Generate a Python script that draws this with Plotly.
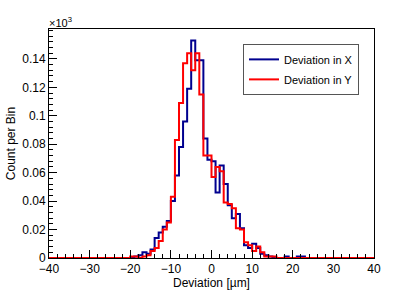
import plotly.graph_objects as go

# bin left edges: -40 ... 39 (1 µm bins)
bin_lo = list(range(-40, 40))

# counts per bin, for bins starting at -20 ... 22
blue_core = [0, 1, 2, 4, 3, 6, 14, 18, 22, 26, 40, 58, 78, 96, 119, 153, 139, 139,
             84, 69, 68, 46, 65, 52, 37, 28, 31, 21, 9, 7, 10, 7, 3, 2, 1, 0, 0, 0,
             1, 0, 0, 1, 1]
red_core = [1, 1, 0, 1, 2, 5, 7, 12, 20, 25, 43, 83, 109, 137, 144, 132, 144, 115,
            72, 72, 57, 64, 61, 39, 38, 35, 21, 20, 11, 9, 5, 8, 4, 1, 1, 1, 0, 0,
            0, 0, 0, 0, 0]

core_start = -20
def full(core):
    vals = [0] * len(bin_lo)
    for i, v in enumerate(core):
        vals[core_start + 40 + i] = v
    return vals

blue_counts = full(blue_core)
red_counts = full(red_core)

x_ticks = [-40, -30, -20, -10, 0, 10, 20, 30, 40]
y_ticks = [0, 0.02, 0.04, 0.06, 0.08, 0.1, 0.12, 0.14]
y_tick_text = ["0", "0.02", "0.04", "0.06", "0.08", "0.1", "0.12", "0.14"]

def step(vals):
    xs = bin_lo + [bin_lo[-1] + 1]
    ys = [v / 1000 for v in vals] + [vals[-1] / 1000]
    return xs, ys

fig = go.Figure()
bx, by = step(blue_counts)
rx, ry = step(red_counts)
fig.add_trace(go.Scatter(x=bx, y=by, mode="lines", line=dict(shape="hv", color="#00008f", width=2),
                         name="Deviation in X", legendgroup="x"))
fig.add_trace(go.Scatter(x=rx, y=ry, mode="lines", line=dict(shape="hv", color="#ff0000", width=2),
                         name="Deviation in Y", legendgroup="y"))

font = "Liberation Sans, Arial, sans-serif"
fig.update_layout(
    width=407, height=294,
    margin=dict(l=49, r=33, t=29, b=36),
    paper_bgcolor="white", plot_bgcolor="white",
    font=dict(family=font, size=11, color="black"),
    showlegend=True,
    legend=dict(x=0.597, y=0.935, xanchor="left", yanchor="top",
                bordercolor="#555", borderwidth=1, bgcolor="white",
                font=dict(size=11), tracegroupgap=1),
    xaxis=dict(range=[-40, 40], tickvals=x_ticks, ticks="inside", ticklen=8,
               tickcolor="black", showline=True, linecolor="black", linewidth=1,
               mirror=True, showgrid=False, zeroline=False, automargin=False,
               minor=dict(dtick=2, ticks="inside", ticklen=4, tickcolor="black"),
               title=dict(text="Deviation [µm]", font=dict(size=12), standoff=2),
               tickfont=dict(size=12)),
    yaxis=dict(range=[0, 0.161], tickvals=y_ticks, ticktext=y_tick_text,
               ticks="inside", ticklen=8, tickcolor="black",
               showline=True, linecolor="black", linewidth=1, mirror=True,
               showgrid=False, zeroline=False, automargin=False,
               minor=dict(dtick=0.004, ticks="inside", ticklen=4, tickcolor="black"),
               title=dict(text="Count per Bin", font=dict(size=12), standoff=4),
               tickfont=dict(size=12)),
    annotations=[dict(text="×10<sup>3</sup>", xref="paper", yref="paper", x=0, y=1,
                      xanchor="left", yanchor="bottom", showarrow=False,
                      font=dict(size=11), xshift=-2, yshift=-2)],
)

fig.write_html("out.html", config={"displayModeBar": False},
               post_script="document.body.style.margin='0';document.body.style.overflow='hidden';")
